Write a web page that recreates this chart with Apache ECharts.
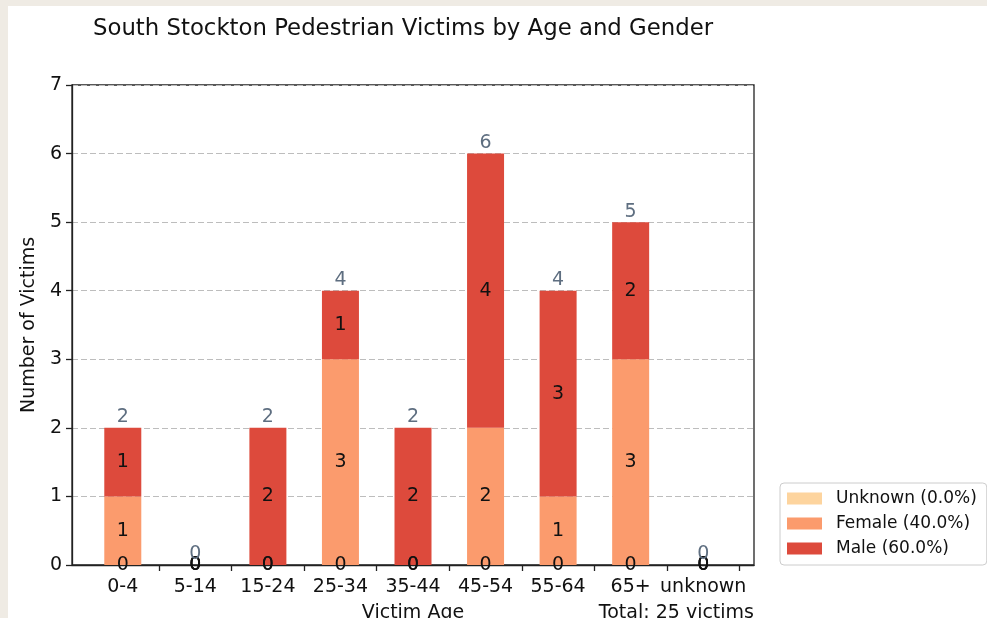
<!DOCTYPE html>
<html>
<head>
<meta charset="utf-8">
<script src="https://cdn.jsdelivr.net/npm/echarts@6/dist/echarts.min.js"></script>
<style>
    html, body { margin: 0; padding: 0; width: 987px; height: 618px; overflow: hidden; background: #efebe4; }
    #chart { position: absolute; left: 8px; top: 6px; width: 979px; height: 612px; background: #fff; }
</style>
</head>
<body>
<div id="chart"></div>
<script>
// age groups on the x axis
var ageGroups = ['0-4', '5-14', '15-24', '25-34', '35-44', '45-54', '55-64', '65+', 'unknown'];
// victims per gender
var unknownCounts = [0, 0, 0, 0, 0, 0, 0, 0, 0];
var femaleCounts = [1, 0, 0, 3, 0, 2, 1, 3, 0];
var maleCounts = [1, 0, 2, 1, 2, 4, 3, 2, 0];
var yTicks = [0, 1, 2, 3, 4, 5, 6, 7];

var FONT = 'DejaVu Sans';

function sum(arr) {
    return arr.reduce(function (a, b) { return a + b; }, 0);
}

var totals = ageGroups.map(function (g, i) {
    return unknownCounts[i] + femaleCounts[i] + maleCounts[i];
});
var grandTotal = sum(totals);

function pct(arr) {
    return (sum(arr) / grandTotal * 100).toFixed(1) + '%';
}

var names = {
    unknown: 'Unknown (' + pct(unknownCounts) + ')',
    female: 'Female (' + pct(femaleCounts) + ')',
    male: 'Male (' + pct(maleCounts) + ')'
};

// pairs [count, x index] -> count first so the stack runs on y
function pairs(arr) {
    return arr.map(function (v, i) { return [v, i]; });
}

function stackSeries(name, arr, color) {
    return {
        name: name,
        type: 'bar',
        stack: 'gender',
        barWidth: 37,
        encode: { x: 1, y: 0 },
        data: pairs(arr),
        itemStyle: { color: color },
        label: {
            show: true,
            position: 'inside',
            color: '#111',
            fontFamily: FONT,
            fontSize: 19,
            formatter: function (p) { return p.value[0]; }
        }
    };
}

var chart = echarts.init(document.getElementById('chart'));

var option = {
    animation: false,
    title: {
        text: 'South Stockton Pedestrian Victims by Age and Gender',
        left: 85,
        top: 12,
        padding: 0,
        textStyle: { fontFamily: FONT, fontSize: 22.8, fontWeight: 'normal', color: '#111' }
    },
    legend: {
        data: [names.unknown, names.female, names.male],
        orient: 'vertical',
        left: 772,
        top: 477,
        padding: [7, 10, 8, 7],
        itemWidth: 35,
        itemHeight: 12,
        itemGap: 8,
        icon: 'rect',
        backgroundColor: '#fff',
        borderColor: '#ccc',
        borderWidth: 1,
        borderRadius: 4,
        textStyle: { fontFamily: FONT, fontSize: 17, color: '#111', padding: [0, 0, 0, 9] }
    },
    grid: {
        left: 64,
        top: 79,
        width: 682,
        height: 480,
        show: true,
        borderColor: '#222',
        borderWidth: 1.3,
        containLabel: false,
        outerBoundsMode: 'none'
    },
    xAxis: {
        type: 'value',
        min: -0.7,
        max: 8.7,
        name: 'Victim Age',
        nameLocation: 'middle',
        nameGap: 39,
        nameTextStyle: { fontFamily: FONT, fontSize: 19, color: '#111' },
        axisLine: { show: true, onZero: false, lineStyle: { color: '#222', width: 1.3 } },
        axisTick: {
            show: true,
            length: 6,
            customValues: [0.5, 1.5, 2.5, 3.5, 4.5, 5.5, 6.5, 7.5, 8.5],
            lineStyle: { color: '#222', width: 1.3 }
        },
        axisLabel: {
            customValues: [0, 1, 2, 3, 4, 5, 6, 7, 8],
            formatter: function (v) { return ageGroups[Math.round(v)]; },
            margin: 13,
            fontFamily: FONT,
            fontSize: 19,
            color: '#111'
        },
        splitLine: { show: false }
    },
    yAxis: {
        type: 'value',
        min: yTicks[0],
        max: yTicks[yTicks.length - 1],
        interval: 1,
        name: 'Number of Victims',
        nameLocation: 'middle',
        nameGap: 27,
        nameTextStyle: { fontFamily: FONT, fontSize: 19, color: '#111' },
        axisLine: { show: true, onZero: false, lineStyle: { color: '#222', width: 1.3 } },
        axisTick: { show: true, length: 6, lineStyle: { color: '#222', width: 1.3 } },
        axisLabel: { margin: 10, fontFamily: FONT, fontSize: 19, color: '#111' },
        splitLine: { show: true, lineStyle: { color: '#bdbdbd', width: 1, type: [6, 3] } }
    },
    graphic: [{
        type: 'text',
        right: 979 - 746,
        top: 598,
        style: {
            text: 'Total: ' + grandTotal + ' victims',
            font: '19px "DejaVu Sans"',
            fill: '#111',
            align: 'right'
        }
    }],
    series: [
        stackSeries(names.unknown, unknownCounts, '#fdd49e'),
        stackSeries(names.female, femaleCounts, '#fb9b6d'),
        stackSeries(names.male, maleCounts, '#dd4a3c'),
        {
            name: 'Total',
            type: 'bar',
            barWidth: 37,
            barGap: '-100%',
            encode: { x: 1, y: 0 },
            data: pairs(totals),
            itemStyle: { color: 'rgba(0,0,0,0)' },
            label: {
                show: true,
                position: 'top',
                distance: 1,
                color: '#5e6e80',
                fontFamily: FONT,
                fontSize: 19,
                formatter: function (p) { return p.value[0]; }
            },
            z: 3
        }
    ]
};

chart.setOption(option);
</script>
</body>
</html>
